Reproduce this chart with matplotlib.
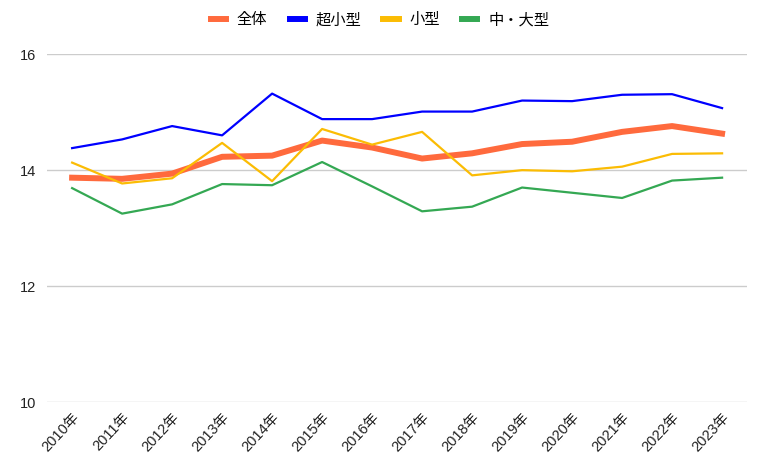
import matplotlib
matplotlib.use("Agg")
import matplotlib.pyplot as plt

plt.rcParams['font.family'] = ['Liberation Sans', 'Noto Sans CJK JP', 'DejaVu Sans']

years = ["2010年", "2011年", "2012年", "2013年", "2014年", "2015年", "2016年",
         "2017年", "2018年", "2019年", "2020年", "2021年", "2022年", "2023年"]

zentai = [13.87, 13.85, 13.94, 14.23, 14.25, 14.51, 14.39, 14.20, 14.29, 14.45, 14.49, 14.66, 14.76, 14.63]
chokogata = [14.38, 14.53, 14.76, 14.60, 15.32, 14.88, 14.88, 15.01, 15.01, 15.20, 15.19, 15.30, 15.31, 15.07]
kogata = [14.13, 13.77, 13.86, 14.47, 13.81, 14.71, 14.44, 14.66, 13.91, 14.00, 13.98, 14.06, 14.28, 14.29]
chu_ogata = [13.69, 13.25, 13.41, 13.76, 13.74, 14.14, 13.72, 13.29, 13.37, 13.70, 13.61, 13.52, 13.82, 13.87]

fig = plt.figure(figsize=(7.6, 4.67), dpi=100)
ax = fig.add_axes([0.062, 0.139, 0.921, 0.745])

x = range(len(years))
ax.plot(x, zentai, color="#ff6a3d", lw=4.3, label="全体", zorder=3, solid_joinstyle="round")
ax.plot(x, chokogata, color="#0000ff", lw=1.6, label="超小型", zorder=4)
ax.plot(x, kogata, color="#fbbc04", lw=1.6, label="小型", zorder=4)
ax.plot(x, chu_ogata, color="#34a853", lw=1.6, label="中・大型", zorder=4)

ax.set_xlim(-0.5, 13.5)
ax.set_ylim(10, 16)
ax.set_yticks([10, 12, 14, 16])
ax.set_xticks(list(x))
ax.set_xticklabels(years, rotation=47, ha="right", va="top", rotation_mode="anchor",
                   fontsize=10.5, color="#222222")
ax.tick_params(axis="y", length=0, labelsize=10.5, labelcolor="#222222", pad=8)
ax.tick_params(axis="x", length=0, pad=6)
ax.grid(axis="y", color="#cccccc", lw=1)
ax.set_axisbelow(True)
for s in ax.spines.values():
    s.set_visible(False)

# legend is centred on the whole figure, not the plot area
leg = fig.legend(loc="center", bbox_to_anchor=(0.5, 0.957), ncol=4, frameon=False,
                 fontsize=11, handlelength=1.0, handletextpad=0.7, columnspacing=1.45)
for h in leg.get_lines():
    h.set_linewidth(4.3)

fig.savefig("out.png", dpi=100)
